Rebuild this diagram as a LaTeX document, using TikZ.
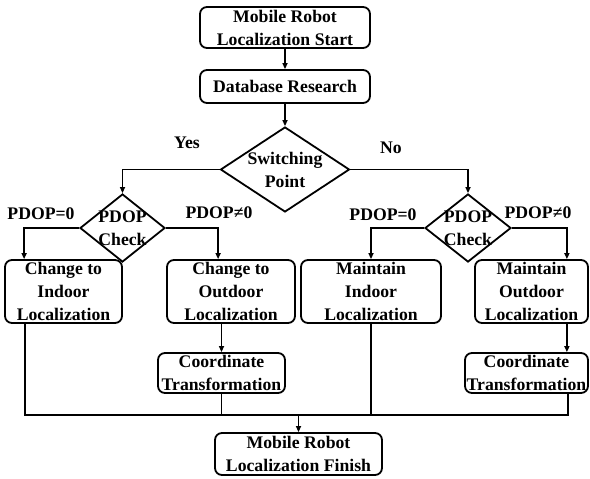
\documentclass[tikz,border=0pt]{standalone}
\usepackage{fontspec}
\setmainfont{Liberation Serif}
\usetikzlibrary{shapes.geometric,arrows.meta}
\begin{document}
\begin{tikzpicture}[x=1pt,y=-1pt,
  txt/.style={font=\fontsize{17.7}{23}\selectfont\bfseries, align=center, inner sep=0pt},
  box/.style={txt, draw, line width=1.8pt, rounded corners=7pt},
  decision/.style={draw, diamond, line width=1.8pt, inner sep=0pt},
  link/.style={line width=1.8pt},
  arrow/.style={link, -{Triangle[length=6pt,width=5pt]}}]
\useasboundingbox (0,0) rectangle (590,479);

% process boxes
\node[box, minimum width=170pt, minimum height=41pt] (start) at (285,27.5) {Mobile Robot\\Localization Start};
\node[box, minimum width=170pt, minimum height=33pt] (db) at (285,86.5) {Database Research};
\node[box, minimum width=117pt, minimum height=63pt] (ci) at (63.5,291.5) {Change to\\Indoor\\Localization};
\node[box, minimum width=128pt, minimum height=63pt] (co) at (231,291.5) {Change to\\Outdoor\\Localization};
\node[box, minimum width=140pt, minimum height=63pt] (mi) at (371,291.5) {Maintain\\Indoor\\Localization};
\node[box, minimum width=113pt, minimum height=63pt] (mo) at (531.5,291.5) {Maintain\\Outdoor\\Localization};
\node[box, minimum width=127pt, minimum height=40pt] (ctl) at (221.5,373) {Coordinate\\Transformation};
\node[box, minimum width=123pt, minimum height=40pt] (ctr) at (526.5,373) {Coordinate\\Transformation};
\node[box, minimum width=167pt, minimum height=42pt] (fin) at (298.5,454) {Mobile Robot\\Localization Finish};

% decisions
\node[decision, minimum width=129pt, minimum height=85pt] (sw) at (285,169.5) {};
\node[txt] (swt) at (sw) {Switching\\Point};
\node[decision, minimum width=85pt, minimum height=68pt] (pl) at (122.5,228) {};
\node[txt] (plt) at (pl) {PDOP\\Check};
\node[decision, minimum width=86pt, minimum height=68pt] (pr) at (468,228) {};
\node[txt] (prt) at (pr) {PDOP\\Check};

% branch labels
\node[txt] (yes) at (187,143) {Yes};
\node[txt] (no) at (391,148) {No};
\node[txt] (pl0) at (41,214) {PDOP=0};
\node[txt] (pln) at (219,213) {PDOP≠0};
\node[txt] (pr0) at (383,215) {PDOP=0};
\node[txt] (prn) at (538,213) {PDOP≠0};

% connector end points
\coordinate (ciin) at ([xshift=20pt]ci.north west);
\coordinate (coin) at ([xshift=52pt]co.north west);
\coordinate (moin) at ([xshift=-22pt]mo.north east);
\coordinate (moout) at ([xshift=-22pt]mo.south east);
\coordinate (ciout) at ([xshift=21pt]ci.south west);
\coordinate (ctrout) at ([xshift=-21pt]ctr.south east);
\coordinate (busy) at (0,415);

% flow
\draw[arrow] (start) -- (db);
\draw[arrow] (db) -- (sw.north);
\draw[arrow] (sw.west) -| (pl.north);
\draw[arrow] (sw.east) -| (pr.north);
\draw[arrow] (pl.west) -| (ciin);
\draw[arrow] (pl.east) -| (coin);
\draw[arrow] (pr.west) -| (mi.north);
\draw[arrow] (pr.east) -| (moin);
\draw[arrow] (ctl.north |- co.south) -- (ctl.north);
\draw[arrow] (moout) -- (moout |- ctr.north);

% collecting line
\draw[link] (ciout) -- (ciout |- busy) -- (ctrout |- busy) -- (ctrout);
\draw[link] (ctl.south) -- (ctl.south |- busy);
\draw[link] (mi.south) -- (mi.south |- busy);
\draw[arrow] (fin.north |- busy) -- (fin.north);
\end{tikzpicture}
\end{document}
